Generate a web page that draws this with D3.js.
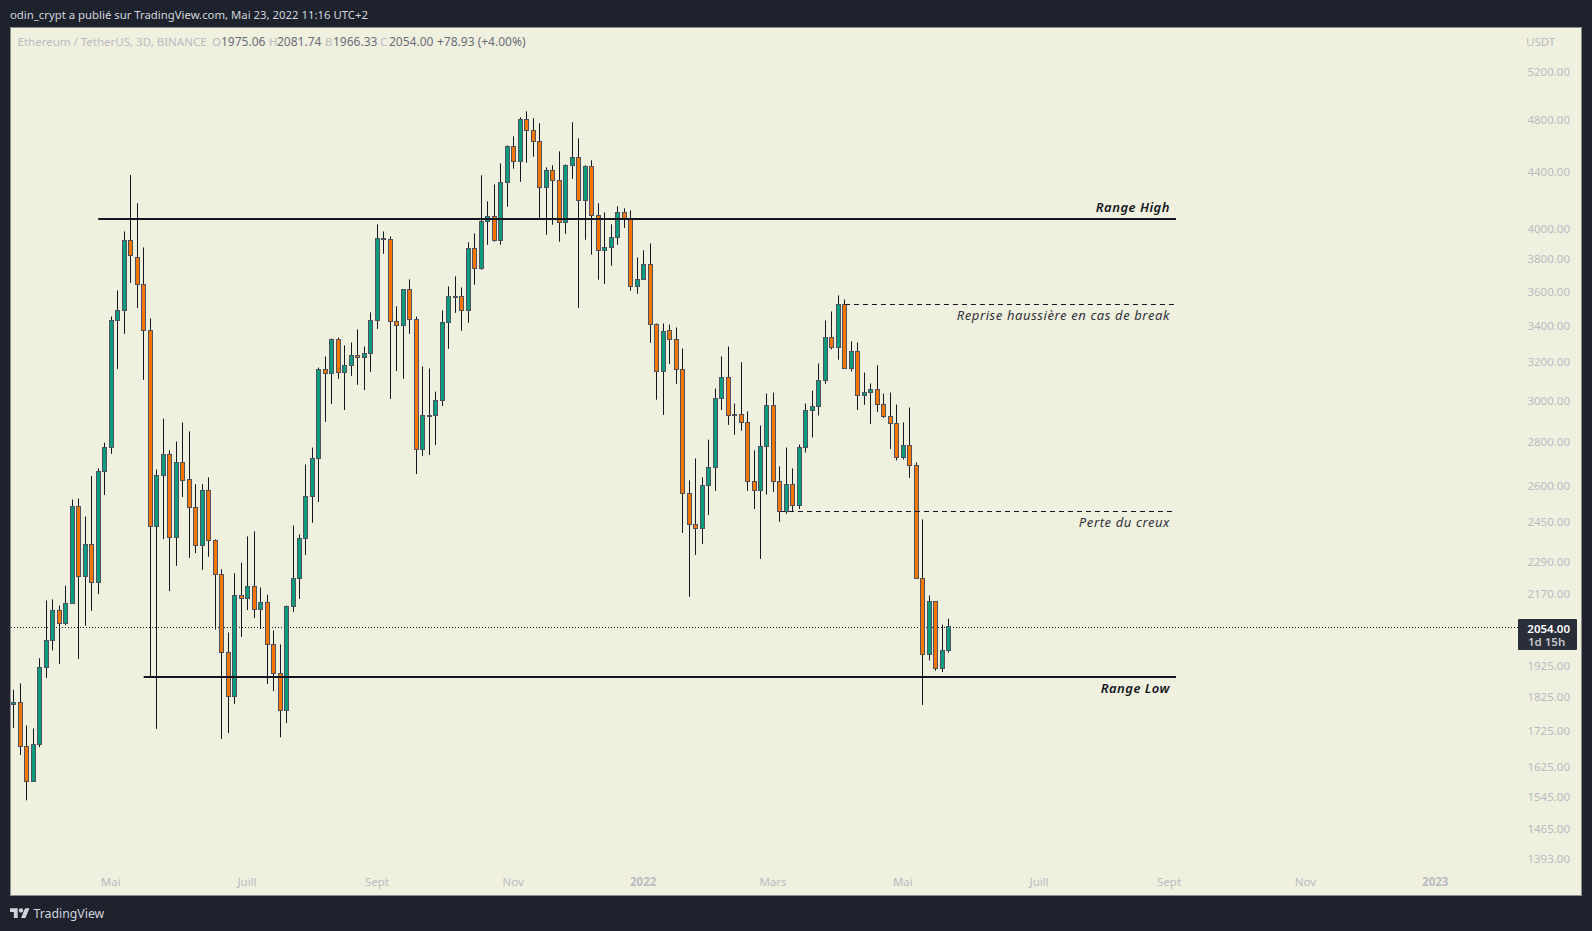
<!DOCTYPE html>
<html>
<head>
<meta charset="utf-8">
<script src="https://cdnjs.cloudflare.com/ajax/libs/d3/7.8.5/d3.min.js"></script>
<style>
html, body { margin: 0; padding: 0; background: #1e222d; overflow: hidden; }
svg { display: block; }
text { font-family: "Noto Sans", sans-serif; }
</style>
</head>
<body>
<div id="chart"></div>
<script>
// ETHUSDT 3D candles
var opens = [1803,1809,1680,1585,1686,1918,2007,2110,2065,2135,2511,2234,2357,2211,2663,2772,3429,3487,3921,3811,3643,3372,2429,2644,2740,2385,2704,2628,2507,2352,2580,2373,2242,1966,1827,2164,2153,2197,2113,2139,1994,1898,1785,2124,2226,2381,2554,2722,3159,3138,3322,3143,3181,3234,3223,3245,3429,3934,3928,3424,3401,3612,3435,2763,2925,2925,2999,3418,3570,3570,3487,3869,3742,4048,4082,3921,4320,4589,4475,4802,4714,4628,4284,4409,4335,4041,4446,4505,4193,4438,4089,3856,3875,3941,4109,4062,3630,3673,3767,3406,3148,3372,3322,3159,2567,2437,2421,2601,2681,3010,3117,2928,2928,2891,2619,2580,2777,2974,2619,2491,2606,2516,2772,2950,2969,3101,3333,3278,3523,3164,3256,3025,3039,3055,2979,2920,2886,2726,2781,2690,2226,1960,2142,1915,1975.06];
var highs = [1848,1868,1741,1732,1948,2146,2150,2128,2200,2541,2545,2470,2643,2677,2795,3452,3606,3980,4374,4172,3875,3441,2672,2910,2759,2800,2891,2848,2607,2607,2637,2377,2261,2034,2246,2287,2389,2409,2193,2167,2041,1994,2128,2433,2397,2694,2772,3169,3229,3327,3333,3289,3305,3378,3283,3476,4028,3980,3947,3511,3613,3673,3452,3175,3164,3044,3487,3630,3692,3624,3908,3967,4372,4186,4306,4460,4597,4667,4818,4866,4810,4770,4431,4446,4551,4453,4778,4651,4446,4483,4172,4109,4028,4151,4137,4123,3811,3856,3901,3412,3412,3406,3389,3272,2624,2722,2637,2809,3060,3229,3283,2984,3197,2945,2759,2876,3034,3039,2686,2772,2677,2786,2984,3049,3191,3429,3481,3576,3552,3311,3305,3143,3086,3181,3034,3039,2979,2891,2964,2704,2458,2164,2143,2061,2081.74];
var lows = [1734,1657,1536,1584,1679,1885,1974,1930,2059,2134,1946,2057,2109,2169,2561,2743,3162,3353,3652,3502,3105,1888,1731,2378,2180,2274,2552,2305,2323,2259,2309,2044,1702,1719,1805,2019,2112,2084,2046,1866,1844,1707,1748,2105,2152,2316,2444,2531,2894,2982,3110,2952,3125,3079,3052,3146,3381,3834,3007,3151,3110,3353,2652,2734,2738,2784,2972,3270,3473,3370,3416,3640,3733,3892,3912,3892,4148,4421,4325,4465,4510,4069,3958,4025,3912,3964,4346,3502,3925,3828,3671,3646,3758,3892,4004,3604,3586,3672,3303,3003,2928,3189,3084,2403,2159,2316,2359,2476,2578,2952,2879,2832,2851,2578,2501,2301,2562,2574,2448,2481,2491,2501,2749,2819,2925,3084,3267,3211,3163,3148,2952,2977,2884,2943,2913,2766,2713,2717,2635,2225,1802,1941,1908,1904,1966.33];
var closes = [1809,1680,1585,1686,1918,2007,2110,2065,2135,2511,2234,2357,2211,2663,2772,3429,3487,3921,3824,3643,3372,2429,2645,2740,2385,2704,2625,2507,2352,2580,2373,2242,1966,1827,2164,2153,2197,2113,2139,1994,1898,1785,2124,2226,2381,2554,2722,3159,3138,3322,3143,3181,3234,3223,3245,3429,3934,3928,3424,3401,3612,3435,2763,2925,2924,2999,3418,3570,3568,3487,3869,3742,4048,4082,3921,4320,4589,4475,4802,4714,4628,4284,4409,4335,4041,4446,4505,4193,4438,4089,3856,3875,3941,4109,4062,3630,3673,3767,3406,3148,3367,3322,3159,2567,2437,2421,2601,2681,3010,3117,2925,2925,2891,2619,2580,2777,2974,2619,2491,2606,2516,2772,2950,2969,3101,3333,3278,3523,3164,3256,3025,3039,3055,2979,2920,2886,2726,2781,2690,2226,1960,2142,1915,1973,2054];

// price axis
var priceTicks = [5200,4800,4400,4000,3800,3600,3400,3200,3000,2800,2600,2450,2290,2170,1925,1825,1725,1625,1545,1465,1393];

// time axis, position in number of bars from the first candle
var monthBars = [15,36,56,77,97,117,137,158,178,199,219];
var monthNames = ["Mai","Juill","Sept","Nov","2022","Mars","Mai","Juill","Sept","Nov","2023"];

// drawn lines: price and first/last bar
var rangeHigh = [4064, 13, 179];
var rangeLow = [1888, 20, 179];
var breakLevel = [3523, 128, 179];
var lowLevel = [2491, 118, 179];
var lastPrice = 2054;

// legend pieces
var legendTitle = "Ethereum / TetherUS, 3D, BINANCE";
var legendKeys = ["O","H","B","C"];
var legendVals = ["1975.06","2081.74","1966.33","2054.00"];
var legendDelta = "+78.93 (+4.00%)";

var width = 1592;
var height = 931;

var paneLeft = 10;
var paneTop = 27;
var paneRight = 1582;
var paneBottom = 896;

var green = "#0b9c7e";
var orange = "#f47500";
var edge = "#50535f";
var ink = "#131722";
var axisGrey = "#b9bbc4";

var svg = d3.select("#chart").append("svg")
    .attr("width", width)
    .attr("height", height);

// scales, the y one is log like the tradingview one
var x = d3.scaleLinear().domain([0, 144]).range([13.8, 948.8]);
var y = d3.scaleLog().domain([5200, 1393]).range([71.7, 858.7]);

// snap to the pixel grid so the candles stay sharp
function px(v) { return Math.round(v - 0.5) + 0.5; }

// header
svg.append("text")
    .attr("x", 10)
    .attr("y", 19)
    .attr("fill", "#d1d4dc")
    .style("font-size", "11.35px")
    .text("odin_crypt a publié sur TradingView.com, Mai 23, 2022 11:16 UTC+2");

// pane
svg.append("rect")
    .attr("x", paneLeft + 0.5)
    .attr("y", paneTop + 0.5)
    .attr("width", paneRight - paneLeft - 1)
    .attr("height", paneBottom - paneTop - 1)
    .attr("fill", "#f0f0de")
    .attr("stroke", "#8b8d90");

// last price line goes under the candles
svg.append("line")
    .attr("x1", paneLeft + 1)
    .attr("x2", 1518)
    .attr("y1", Math.round(y(lastPrice)) + 0.5)
    .attr("y2", Math.round(y(lastPrice)) + 0.5)
    .attr("stroke", ink)
    .attr("stroke-dasharray", "1 2");

// candles
var bars = opens.map(function(o, i) {
    return { i: i, o: o, h: highs[i], l: lows[i], c: closes[i] };
});

var candles = svg.append("g").attr("class", "candles");

candles.selectAll("line")
    .data(bars)
    .enter()
    .append("line")
    .attr("x1", function(d) { return px(x(d.i)); })
    .attr("x2", function(d) { return px(x(d.i)); })
    .attr("y1", function(d) { return y(d.h); })
    .attr("y2", function(d) { return y(d.l); })
    .attr("stroke", ink);

candles.selectAll("rect")
    .data(bars)
    .enter()
    .append("rect")
    .attr("x", function(d) { return px(x(d.i)) - 2; })
    .attr("y", function(d) { return px(y(Math.max(d.o, d.c))); })
    .attr("width", 4)
    .attr("height", function(d) {
        return Math.max(1, px(y(Math.min(d.o, d.c))) - px(y(Math.max(d.o, d.c))));
    })
    .attr("fill", function(d) { return d.c >= d.o ? green : orange; })
    .attr("stroke", edge);

// levels
function drawLevel(level, thick, dash) {
    svg.append("line")
        .attr("x1", x(level[1]))
        .attr("x2", x(level[2]))
        .attr("y1", Math.round(y(level[0])) + (thick ? 0 : 0.5))
        .attr("y2", Math.round(y(level[0])) + (thick ? 0 : 0.5))
        .attr("stroke", ink)
        .attr("stroke-width", thick ? 2 : 1)
        .attr("stroke-dasharray", dash);
}
drawLevel(rangeHigh, true, null);
drawLevel(rangeLow, true, null);
drawLevel(breakLevel, false, "5 4");
drawLevel(lowLevel, false, "5 4");

// level labels
function note(label, yPos, bold) {
    svg.append("text")
        .attr("x", 1170)
        .attr("y", yPos)
        .attr("text-anchor", "end")
        .attr("fill", bold ? ink : "#2f323c")
        .style("font-size", "13px")
        .style("font-style", "italic")
        .style("font-weight", bold ? 600 : 400)
        .style("letter-spacing", bold ? "0.5px" : "0.6px")
        .text(label);
}
note("Range High", 212, true);
note("Reprise haussière en cas de break", 320, false);
note("Perte du creux", 527, false);
note("Range Low", 693, true);

// legend line
var legendY = 46;
svg.append("text")
    .attr("x", 17.5)
    .attr("y", legendY)
    .attr("fill", axisGrey)
    .style("font-size", "11.5px")
    .text(legendTitle);

var keyX = [212, 269, 325, 380];
var valX = [221, 277, 333, 389];
legendKeys.forEach(function(k, i) {
    svg.append("text").attr("x", keyX[i]).attr("y", legendY)
        .attr("fill", axisGrey).style("font-size", "11.5px").text(k);
    svg.append("text").attr("x", valX[i]).attr("y", legendY)
        .attr("fill", "#6a6d78").style("font-size", "12px").text(legendVals[i]);
});
svg.append("text").attr("x", 437).attr("y", legendY)
    .attr("fill", "#6a6d78").style("font-size", "12px").text(legendDelta);

// price axis
var yAxis = d3.axisLeft(y)
    .tickValues(priceTicks)
    .tickFormat(function(d) { return d.toFixed(2); })
    .tickSize(0)
    .tickPadding(0);

var yAxisG = svg.append("g")
    .attr("transform", "translate(1570,0)")
    .call(yAxis);
yAxisG.select(".domain").remove();
yAxisG.selectAll("text")
    .attr("fill", axisGrey)
    .style("font-size", "11.5px")
    .style("font-family", "\"Noto Sans\", sans-serif");

svg.append("text")
    .attr("x", 1526)
    .attr("y", 46)
    .attr("fill", axisGrey)
    .style("font-size", "11.5px")
    .text("USDT");

// time axis
var xAxis = d3.axisBottom(x)
    .tickValues(monthBars)
    .tickFormat(function(d, i) { return monthNames[i]; })
    .tickSize(0)
    .tickPadding(0);

var xAxisG = svg.append("g")
    .attr("transform", "translate(-1,878)")
    .call(xAxis);
xAxisG.select(".domain").remove();
xAxisG.selectAll("text")
    .attr("fill", axisGrey)
    .style("font-size", "11.5px")
    .style("font-family", "\"Noto Sans\", sans-serif")
    .style("font-weight", function(d, i) { return +monthNames[i] ? 700 : 400; });

// last price tag
svg.append("rect")
    .attr("x", 1518)
    .attr("y", 619)
    .attr("width", 59)
    .attr("height", 31)
    .attr("rx", 1)
    .attr("fill", "#2a2e39");
svg.append("text")
    .attr("x", 1570)
    .attr("y", 632.5)
    .attr("text-anchor", "end")
    .attr("fill", "#ffffff")
    .style("font-size", "11.5px")
    .style("font-weight", 600)
    .text(lastPrice.toFixed(2));
svg.append("text")
    .attr("x", 1528)
    .attr("y", 646)
    .attr("fill", "#c4c6ce")
    .style("font-size", "11.5px")
    .style("font-weight", 600)
    .text("1d 15h");

// tradingview logo
svg.append("path")
    .attr("transform", "translate(10,906) scale(0.55)")
    .attr("d", "M14 22H7V11H0V4h14v18zM28 22h-8l7.5-18h8L28 22z")
    .attr("fill", "#d1d4dc");
svg.append("circle")
    .attr("cx", 10 + 20 * 0.55)
    .attr("cy", 906 + 8 * 0.55)
    .attr("r", 4 * 0.55)
    .attr("fill", "#d1d4dc");
svg.append("text")
    .attr("x", 33.5)
    .attr("y", 918)
    .attr("fill", "#d1d4dc")
    .style("font-size", "12.3px")
    .text("TradingView");
</script>
</body>
</html>
